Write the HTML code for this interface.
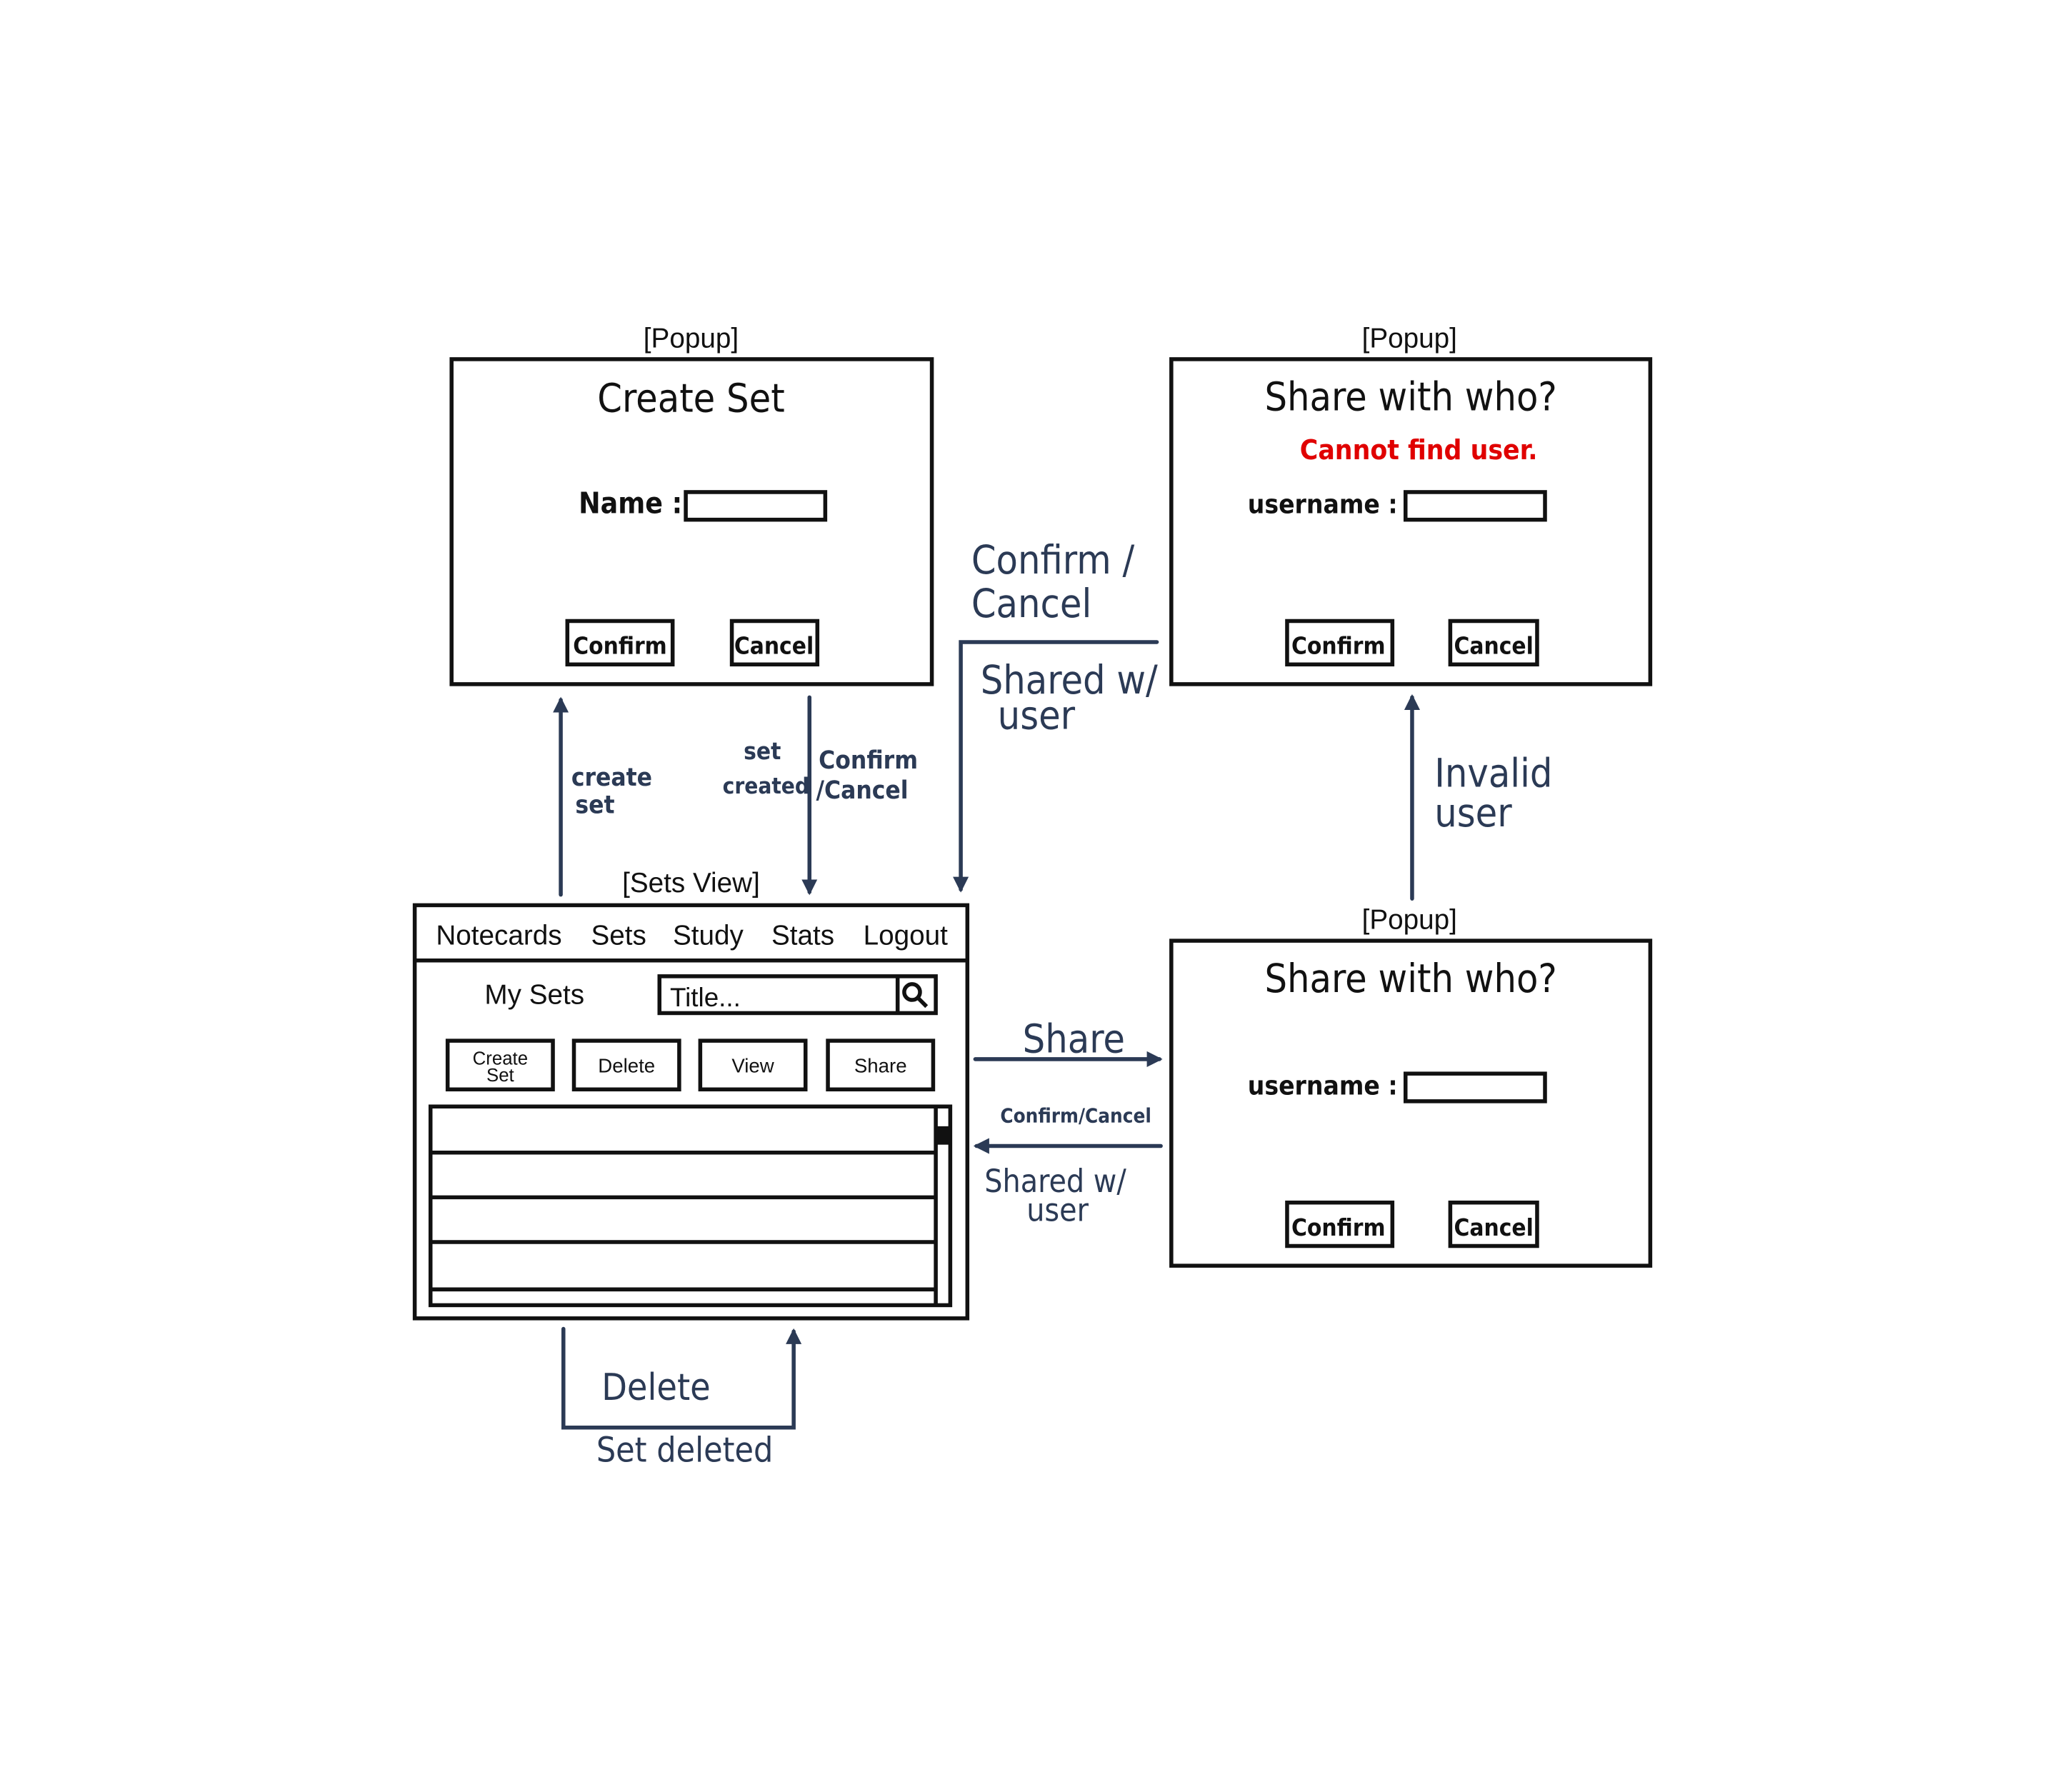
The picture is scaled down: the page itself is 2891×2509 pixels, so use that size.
<!DOCTYPE html>
<html><head><meta charset="utf-8"><style>
html,body{margin:0;padding:0;background:#fff;}
svg{display:block;}
.h{font-family:"DejaVu Sans Condensed","Liberation Sans Narrow","Liberation Sans",sans-serif;}
.s{font-family:"Liberation Sans",sans-serif;}
</style></head><body>
<svg width="2891" height="2509" viewBox="0 0 1569 1362" xmlns="http://www.w3.org/2000/svg">
<defs>
<marker id="a" viewBox="0 0 10 10" refX="8" refY="5" markerWidth="4" markerHeight="4" orient="auto-start-reverse"><path d="M0,0 L10,5 L0,10 z" fill="#2b3a55"/></marker>
</defs>
<rect width="1569" height="1362" fill="#fff"/>
<g fill="none" stroke="#111" stroke-width="3">
<rect x="343" y="273" width="365" height="247"/>
<rect x="521" y="374" width="106" height="21"/>
<rect x="431" y="472" width="80" height="33"/>
<rect x="556" y="472" width="65" height="33"/>
<rect x="890" y="273" width="364" height="247"/>
<rect x="1068" y="374" width="106" height="21"/>
<rect x="978" y="472" width="80" height="33"/>
<rect x="1102" y="472" width="66" height="33"/>
<rect x="890" y="715" width="364" height="247"/>
<rect x="1068" y="816" width="106" height="21"/>
<rect x="978" y="914" width="80" height="33"/>
<rect x="1102" y="914" width="66" height="33"/>
<rect x="315" y="688" width="420" height="314"/>
<line x1="315" y1="730" x2="735" y2="730"/>
<rect x="501" y="742" width="210" height="28"/>
<line x1="682" y1="742" x2="682" y2="770"/>
<rect x="340" y="791" width="80" height="37"/>
<rect x="436" y="791" width="80" height="37"/>
<rect x="532" y="791" width="80" height="37"/>
<rect x="629" y="791" width="80" height="37"/>
<rect x="327" y="841" width="395" height="151"/>
<line x1="711" y1="841" x2="711" y2="992"/>
<line x1="327" y1="876" x2="711" y2="876"/>
<line x1="327" y1="910" x2="711" y2="910"/>
<line x1="327" y1="944" x2="711" y2="944"/>
<line x1="327" y1="980" x2="711" y2="980"/>
<circle cx="693" cy="754" r="6"/>
<line x1="697" y1="758" x2="704" y2="765"/>
</g>
<rect x="711" y="856" width="11" height="14" fill="#111"/>
<g fill="none" stroke="#2b3a55" stroke-width="3" stroke-linecap="round">
<line x1="426" y1="680" x2="426" y2="532" marker-end="url(#a)"/>
<line x1="615" y1="530" x2="615" y2="678" marker-end="url(#a)"/>
<polyline points="879,488 730,488 730,676" marker-end="url(#a)"/>
<line x1="1073" y1="683" x2="1073" y2="530" marker-end="url(#a)"/>
<line x1="741" y1="805" x2="881" y2="805" marker-end="url(#a)"/>
<line x1="882" y1="871" x2="742" y2="871" marker-end="url(#a)"/>
<polyline points="428,1010 428,1085 603,1085 603,1012" marker-end="url(#a)"/>
</g>
<g class="s" fill="#111" text-anchor="middle">
<text x="525" y="264" font-size="21">[Popup]</text>
<text x="1071" y="264" font-size="21">[Popup]</text>
<text x="1071" y="706" font-size="21">[Popup]</text>
<text x="525" y="678" font-size="21">[Sets View]</text>
<text x="379" y="718" font-size="21">Notecards</text>
<text x="470" y="718" font-size="21">Sets</text>
<text x="538" y="718" font-size="21">Study</text>
<text x="610" y="718" font-size="21">Stats</text>
<text x="688" y="718" font-size="21">Logout</text>
<text x="406" y="763" font-size="21">My Sets</text>
<text x="380" y="809" font-size="14">Create</text>
<text x="380" y="822" font-size="14">Set</text>
<text x="476" y="815" font-size="15">Delete</text>
<text x="572" y="815" font-size="15">View</text>
<text x="669" y="815" font-size="15">Share</text>
</g>
<text class="s" x="509" y="765" font-size="20" fill="#111">Title...</text>
<g class="h" fill="#111" font-weight="bold" text-anchor="middle">
<text x="525" y="313" font-size="30" font-weight="normal">Create Set</text>
<text x="479" y="390" font-size="22">Name :</text>
<text x="471" y="497" font-size="18">Confirm</text>
<text x="588" y="497" font-size="18">Cancel</text>
<text x="1072" y="312" font-size="30" font-weight="normal">Share with who?</text>
<text x="1078" y="349" font-size="21" fill="#e00000">Cannot find user.</text>
<text x="1005" y="390" font-size="20">username :</text>
<text x="1017" y="497" font-size="18">Confirm</text>
<text x="1135" y="497" font-size="18">Cancel</text>
<text x="1072" y="754" font-size="30" font-weight="normal">Share with who?</text>
<text x="1005" y="832" font-size="20">username :</text>
<text x="1017" y="939" font-size="18">Confirm</text>
<text x="1135" y="939" font-size="18">Cancel</text>
</g>
<g class="h" fill="#2b3a55">
<text x="434" y="597" font-size="19" font-weight="bold">create</text>
<text x="437" y="618" font-size="19" font-weight="bold">set</text>
<text x="565" y="577" font-size="18" font-weight="bold">set</text>
<text x="549" y="603" font-size="17" font-weight="bold">created</text>
<text x="622" y="584" font-size="19" font-weight="bold">Confirm</text>
<text x="620" y="607" font-size="19" font-weight="bold">/Cancel</text>
<text x="738" y="436" font-size="30">Confirm /</text>
<text x="738" y="469" font-size="30">Cancel</text>
<text x="745" y="527" font-size="30">Shared w/</text>
<text x="758" y="554" font-size="30">user</text>
<text x="1090" y="598" font-size="30">Invalid</text>
<text x="1090" y="628" font-size="30">user</text>
<text x="777" y="800" font-size="30">Share</text>
<text x="760" y="853" font-size="15" font-weight="bold">Confirm/Cancel</text>
<text x="748" y="906" font-size="24">Shared w/</text>
<text x="780" y="928" font-size="24">user</text>
<text x="457" y="1064" font-size="28">Delete</text>
<text x="453" y="1111" font-size="26">Set deleted</text>
</g>
</svg>
</body></html>
